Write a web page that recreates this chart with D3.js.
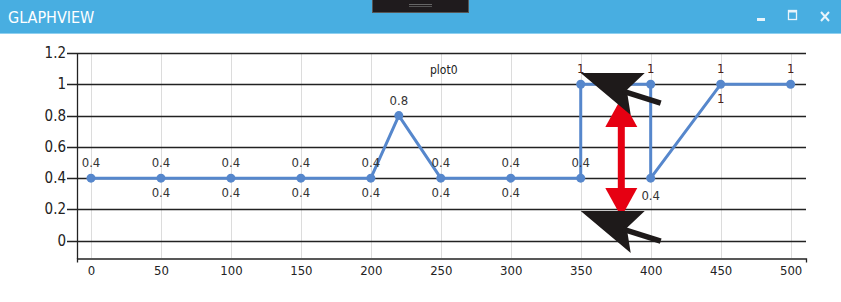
<!DOCTYPE html>
<html>
<head>
<meta charset="utf-8">
<script src="https://cdn.jsdelivr.net/npm/d3@7"></script>
<style>
  body { margin: 0; background: #fff; }
  svg { display: block; }
</style>
</head>
<body>
<svg width="841" height="302"></svg>
<script>
let width = 841, height = 302;

// series data
const xValues = [0, 50, 100, 150, 200, 220, 250, 300, 350, 350, 400, 400, 450, 500];
const yValues = [0.4, 0.4, 0.4, 0.4, 0.4, 0.8, 0.4, 0.4, 0.4, 1, 1, 0.4, 1, 1];
// where each point's value label sits
const labelPos = ["up", "both", "both", "both", "both", "up", "both", "both", "up", "up", "up", "down", "both", "up"];

const xTicks = [0, 50, 100, 150, 200, 250, 300, 350, 400, 450, 500];
const yTicks = [0, 0.2, 0.4, 0.6, 0.8, 1, 1.2];

// annotations (data units)
const redArrowX = 379;
const redArrowY = [0.152, 0.912];
const cursorTips = [[350, 1.072], [350, 0.19]];

const font = "'Liberation Sans Narrow', 'DejaVu Sans Condensed', sans-serif";

let svg = d3.select("svg");

// title bar
svg.append("rect").attr("x", 0).attr("y", 0).attr("width", width).attr("height", 33).attr("fill", "#48aee1");
svg.append("rect").attr("x", 0).attr("y", 33).attr("width", width).attr("height", 1).attr("fill", "#8fd0f0");
svg.append("text").attr("x", 8).attr("y", 22.5)
    .attr("font-family", font).attr("font-size", "16px").attr("fill", "#fff")
    .text("GLAPHVIEW");

// dark tab at the top
svg.append("rect").attr("x", 372.5).attr("y", -1).attr("width", 96).attr("height", 13.5)
    .attr("fill", "#1f1b1d").attr("stroke", "#555").attr("stroke-width", 1);
svg.append("rect").attr("x", 409).attr("y", 4).attr("width", 23).attr("height", 1).attr("fill", "#666");
svg.append("rect").attr("x", 409).attr("y", 6).attr("width", 23).attr("height", 1).attr("fill", "#555");

// window buttons
svg.append("rect").attr("x", 757).attr("y", 18).attr("width", 8).attr("height", 3).attr("fill", "#e8f4fb");
svg.append("rect").attr("x", 788.5).attr("y", 10.5).attr("width", 8).attr("height", 9)
    .attr("fill", "none").attr("stroke", "#e8f4fb").attr("stroke-width", 1.3);
svg.append("rect").attr("x", 788.5).attr("y", 10.5).attr("width", 8).attr("height", 2).attr("fill", "#e8f4fb");
svg.append("path").attr("d", "M821,12 L829,21 M829,12 L821,21")
    .attr("stroke", "#e8f4fb").attr("stroke-width", 2).attr("fill", "none");

// scales
let x = d3.scaleLinear().domain([-10, 511]).range([77, 806]);
let y = d3.scaleLinear().domain([-0.11, 1.2]).range([258, 53]);

// vertical grid
svg.append("g").selectAll("line")
    .data(xTicks)
    .enter()
    .append("line")
    .attr("x1", d => Math.round(x(d)) + 0.5).attr("x2", d => Math.round(x(d)) + 0.5)
    .attr("y1", y(1.2)).attr("y2", y(-0.11))
    .attr("stroke", "#dcdcdc").attr("stroke-width", 1);

// horizontal grid
svg.append("g").selectAll("line")
    .data(yTicks)
    .enter()
    .append("line")
    .attr("x1", 67).attr("x2", 806)
    .attr("y1", d => Math.round(y(d)) + 0.5).attr("y2", d => Math.round(y(d)) + 0.5)
    .attr("stroke", "#222").attr("stroke-width", 1.3);

// y axis labels
svg.append("g").selectAll("text")
    .data(yTicks)
    .enter()
    .append("text")
    .attr("x", 66).attr("y", d => y(d) + 5)
    .attr("text-anchor", "end")
    .attr("font-family", font).attr("font-size", "15px").attr("fill", "#222")
    .text(d => d);

// axes lines
svg.append("line").attr("x1", 77.5).attr("x2", 77.5).attr("y1", y(1.2)).attr("y2", 259)
    .attr("stroke", "#222").attr("stroke-width", 1.3);
let xAxis = svg.append("g")
    .attr("transform", "translate(0,258.5)")
    .call(d3.axisBottom(x).tickValues(xTicks).tickSize(0).tickSizeOuter(4).tickPadding(7));
xAxis.select(".domain").attr("stroke", "#222").attr("stroke-width", 1.3);
xAxis.selectAll("text").attr("font-family", font).attr("font-size", "13px").attr("fill", "#222");

// legend label
svg.append("text").attr("x", 430).attr("y", 74)
    .attr("font-family", font).attr("font-size", "12px").attr("fill", "#222")
    .text("plot0");

// series
const pts = xValues.map((d, i) => [d, yValues[i]]);
let line = d3.line().x(d => x(d[0])).y(d => y(d[1]));

svg.append("path")
    .datum(pts)
    .attr("d", line)
    .attr("fill", "none")
    .attr("stroke", "#5687cc")
    .attr("stroke-width", 3)
    .attr("stroke-linejoin", "round");

svg.append("g").selectAll("circle")
    .data(pts)
    .enter()
    .append("circle")
    .attr("cx", d => x(d[0]))
    .attr("cy", d => y(d[1]))
    .attr("r", 4.5)
    .attr("fill", "#5687cc");

// value labels
let labelData = [];
pts.forEach((d, i) => {
    if (labelPos[i] === "up" || labelPos[i] === "both") labelData.push({ p: d, dy: -11 });
    if (labelPos[i] === "down" || labelPos[i] === "both") labelData.push({ p: d, dy: d[0] === 400 ? 22 : 19 });
});
svg.append("g").selectAll("text")
    .data(labelData)
    .enter()
    .append("text")
    .attr("x", d => x(d.p[0]))
    .attr("y", d => y(d.p[1]) + d.dy)
    .attr("text-anchor", "middle")
    .attr("font-family", font).attr("font-size", "13px")
    .attr("fill", d => d.p[1] === 1 ? "#4a2218" : "#333")
    .text(d => d.p[1]);

// red double arrow
let ax = x(redArrowX);
let yTop = y(redArrowY[1]), yBot = y(redArrowY[0]);
svg.append("rect").attr("x", ax - 3.5).attr("y", yTop + 25).attr("width", 7).attr("height", yBot - yTop - 50)
    .attr("fill", "#e60012");
svg.append("path")
    .attr("d", `M${ax},${yTop} L${ax + 16},${yTop + 29} L${ax - 16},${yTop + 29} Z`)
    .attr("fill", "#e60012");
svg.append("path")
    .attr("d", `M${ax},${yBot} L${ax + 16},${yBot - 29} L${ax - 16},${yBot - 29} Z`)
    .attr("fill", "#e60012");

// black cursor arrows
svg.append("g").selectAll("g")
    .data(cursorTips)
    .enter()
    .append("g")
    .attr("transform", d => "translate(" + x(d[0]) + "," + y(d[1]) + ")")
    .each(function () {
        let g = d3.select(this);
        g.append("path").attr("d", "M0,0 L64,0 L46,17 L50,42 Z").attr("fill", "#1e1a1a");
        g.append("line").attr("x1", 42).attr("y1", 18).attr("x2", 80).attr("y2", 30)
            .attr("stroke", "#1e1a1a").attr("stroke-width", 5.5);
    });
</script>
</body>
</html>
